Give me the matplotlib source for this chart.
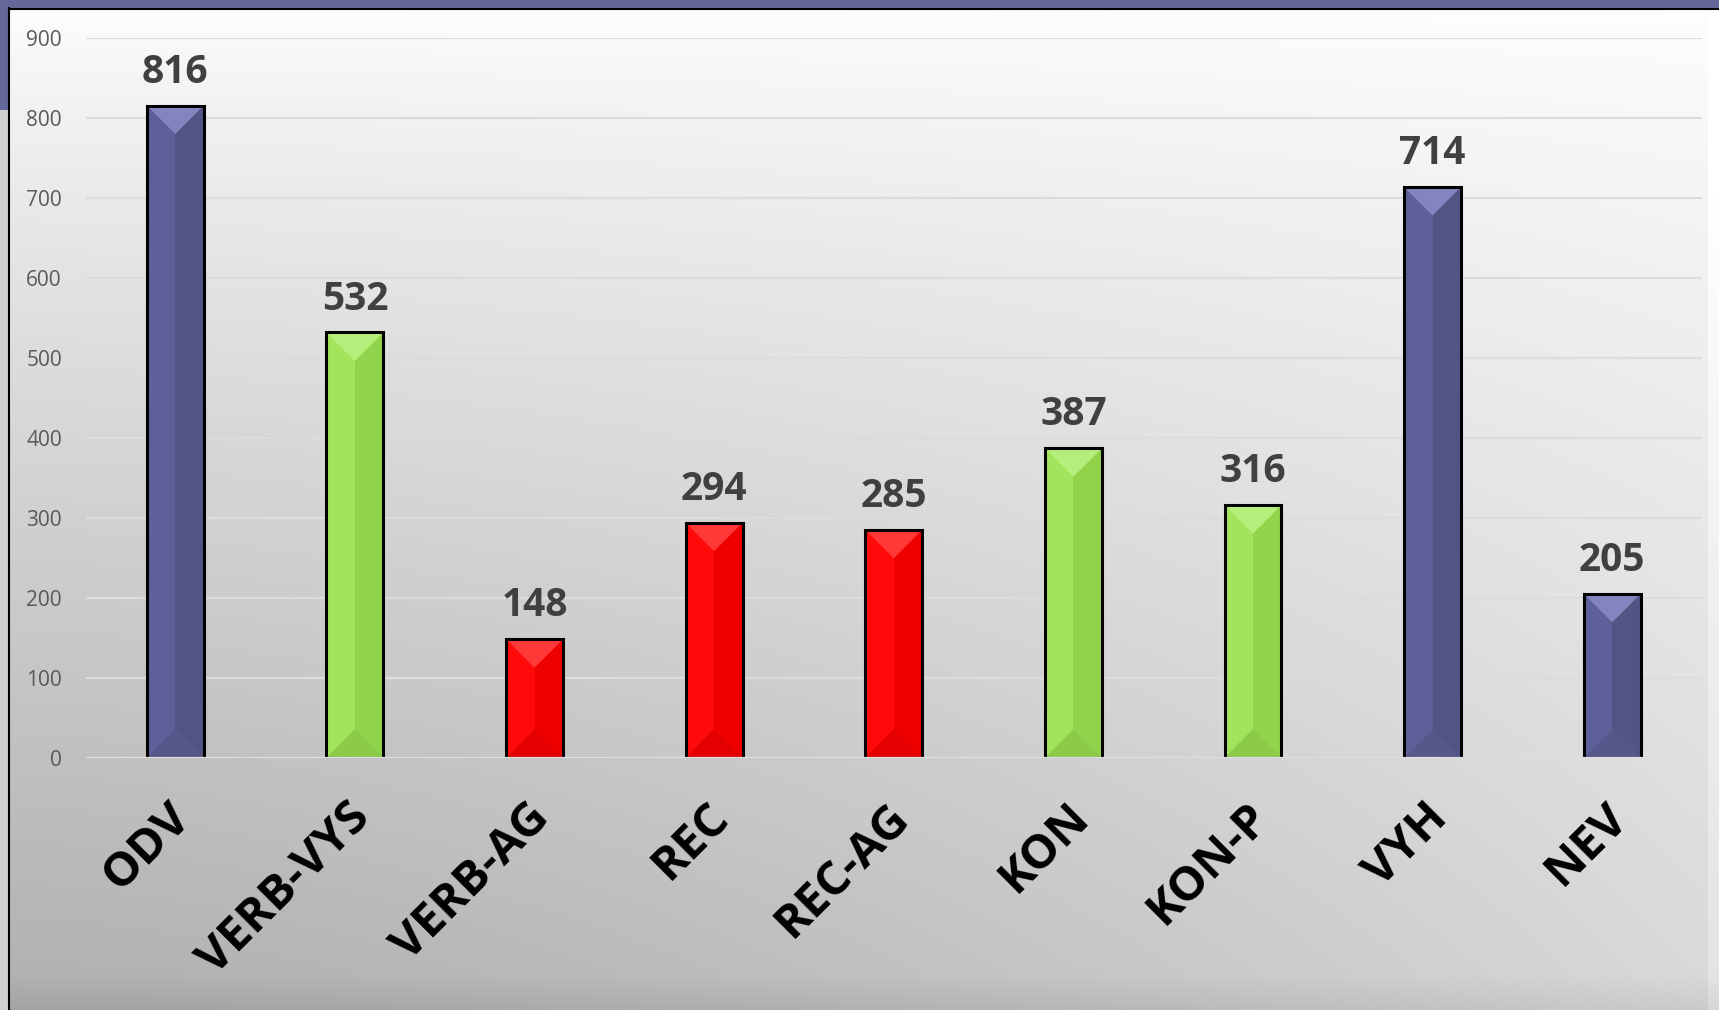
"""Bar chart of category counts with bevelled bars on a grey gradient panel."""
import numpy as np
import matplotlib
matplotlib.use("Agg")
import matplotlib.pyplot as plt
from matplotlib.patches import Polygon, Rectangle

categories = ["ODV", "VERB-VYS", "VERB-AG", "REC", "REC-AG", "KON", "KON-P", "VYH", "NEV"]
counts = [816, 532, 148, 294, 285, 387, 316, 714, 205]
groups = ["blue", "green", "red", "red", "red", "green", "green", "blue", "blue"]
y_ticks = [0, 100, 200, 300, 400, 500, 600, 700, 800, 900]

# left half, right half, top bevel, bottom bevel
shades = {
    "blue": ["#5e6099", "#525484", "#8385c0", "#56588b"],
    "green": ["#a2e45c", "#92d34c", "#b6ee7c", "#8ccb48"],
    "red": ["#ff0a0a", "#ee0000", "#ff3838", "#e40000"],
}

plt.rcParams["font.family"] = ["Open Sans", "DejaVu Sans"]

W, H, DPI = 1719, 1010, 100
fig = plt.figure(figsize=(W / DPI, H / DPI), dpi=DPI)

# background panel: white at top fading to grey, lighter on the right
bg = fig.add_axes([0, 0, 1, 1], zorder=-10)
yy, xx = np.mgrid[0:1:H * 1j, 0:1:W * 1j]
shade = 1 - (yy ** 0.8) * (0.31 - 0.16 * xx ** 1.5)
ramp = np.clip((yy - 0.965) / 0.035, 0, 1)
shade -= 0.05 * ramp
shade[:, -12:] += 0.04
shade = np.clip(shade, 0, 1)
bg.imshow(np.dstack([shade] * 3), aspect="auto", extent=[0, 1, 0, 1], origin="upper")
bg.set_xlim(0, 1)
bg.set_ylim(0, 1)
bg.axis("off")
purple = "#65679a"
bg.add_patch(Rectangle((0, 1 - 8 / H), 1, 8 / H, color=purple, lw=0))
bg.add_patch(Rectangle((0, 1 - 110 / H), 8 / W, 110 / H, color=purple, lw=0))
bg.add_patch(Rectangle((0, 0), 8 / W, 1 - 110 / H, color="#cfcfcf", lw=0))
bg.plot([8.5 / W, 8.5 / W], [0, 1 - 8 / H], color="black", lw=1.5)
bg.plot([8.5 / W, 1], [1 - 8.5 / H, 1 - 8.5 / H], color="black", lw=1.5)

ax = fig.add_axes([85.5 / W, 252.4 / H, (1702 - 85.5) / W, (971.6 - 252.4) / H])
ax.set_facecolor("none")
x = np.arange(len(categories))
width = 0.317
ax.set_xlim(-0.5, len(categories) - 0.5)
ax.set_ylim(0, 900)

ax.set_yticks(y_ticks)
ax.yaxis.grid(True, color="#dcdcdc", lw=1.6, zorder=0)
ax.set_axisbelow(True)
for s in ax.spines.values():
    s.set_visible(False)
ax.tick_params(axis="y", length=0, pad=17, labelsize=15, labelcolor="#595959")
ax.tick_params(axis="x", length=0)
ax.set_xticks(x)
ax.set_xticklabels([])

# convert half bar width to y units so the bevel is 45 degrees
px_x = ax.transData.transform((1, 0))[0] - ax.transData.transform((0, 0))[0]
px_y = ax.transData.transform((0, 1))[1] - ax.transData.transform((0, 0))[1]
bevel = (width / 2) * px_x / px_y

for xi, v, g in zip(x, counts, groups):
    left, right, top, bottom = shades[g]
    hw = width / 2
    ax.bar(xi, v, width, color=left, lw=0, zorder=3)
    ax.add_patch(Rectangle((xi, 0), hw, v, color=right, lw=0, zorder=3.1))
    ax.add_patch(Polygon([(xi - hw, v), (xi + hw, v), (xi, v - bevel)], color=top, lw=0, zorder=3.2))
    ax.add_patch(Polygon([(xi - hw, 0), (xi + hw, 0), (xi, bevel)], color=bottom, lw=0, zorder=3.2))
    ax.bar(xi, v, width, fill=False, edgecolor="black", lw=2.2, zorder=4)
    ax.annotate(str(v), (xi, v), xytext=(0, 10), textcoords="offset points",
                ha="center", va="bottom", fontsize=28, fontweight="bold", color="#404040")

ax.axhline(0, color="#dedede", lw=1.6, zorder=4.5)

for xi, name in zip(x, categories):
    ax.annotate(name, (xi, 0), xytext=(6, -38), textcoords="offset points",
                ha="right", va="center", rotation=45, rotation_mode="anchor",
                fontsize=34, fontweight="bold", color="black")

fig.savefig("out.png", dpi=DPI)
